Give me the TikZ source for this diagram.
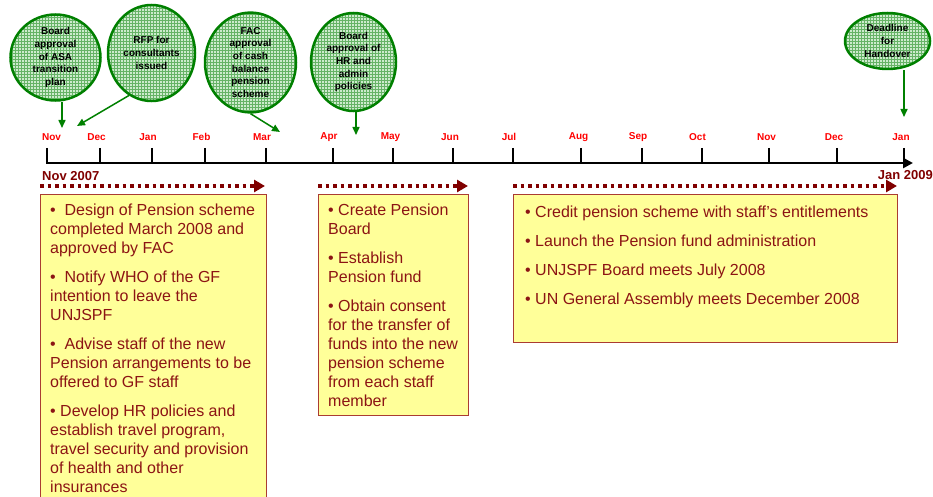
\documentclass[tikz,border=0pt]{standalone}
\usepackage{fontspec}
\setmainfont{Liberation Sans}
\usepackage{tikz}
\usetikzlibrary{shapes.geometric}
\usetikzlibrary{arrows.meta}
\usetikzlibrary{patterns}
\definecolor{darkred}{RGB}{128,0,0}
\definecolor{boxtext}{RGB}{140,20,20}
\definecolor{boxline}{RGB}{170,60,50}
\definecolor{boxfill}{RGB}{255,255,153}
\definecolor{bubgreen}{RGB}{0,128,0}
\definecolor{bubfill}{RGB}{205,235,205}
\tikzset{
  monthlbl/.style={inner sep=0pt, text=red, font=\bfseries\fontsize{10}{12}\selectfont},
  yearlbl/.style={inner sep=0pt, text=darkred, font=\bfseries\fontsize{13}{15}\selectfont},
  boxframe/.style={draw=boxline, fill=boxfill, line width=1pt},
  boxtxt/.style={anchor=north west, inner sep=0pt, align=left, text=boxtext, font=\fontsize{16}{19}\selectfont},
  bubble/.style={ellipse, draw=bubgreen, line width=2.5pt, preaction={fill=bubfill}, pattern=grid, pattern color=bubgreen!60, inner sep=0pt, align=center, font=\bfseries\fontsize{10}{12.7}\selectfont},
  flag/.style={draw=bubgreen, line width=1.5pt, -{Triangle[length=8pt,width=7pt]}},
  axisline/.style={draw=black, line width=2.5pt, -{Triangle[length=10pt,width=10pt]}},
  periodarrow/.style={draw=darkred, line width=3.5pt, dash pattern=on 3.5pt off 4pt, -{Triangle[length=11pt,width=12pt]}}
}
\newcommand{\mtick}[4]{ \draw[line width=2.5pt] ( #1 , 148 ) -- ( #1 , 163 ); \node[monthlbl] (#4) at ( #2 , 137 ) {#3};}
\newcommand{\notebox}[4]{ \draw[boxframe] ( #1 , #2 ) rectangle ( #3 , #4 );}

\begin{document}
\begin{tikzpicture}[x=1pt,y=-1pt]
        \useasboundingbox (0,0) rectangle (933,497);
        % time axis
        \coordinate (tstart) at (46,163);
        \coordinate (tend) at (913,163);
        \draw[axisline] (tstart) -- (tend);
        % months 2007-2008
        \mtick{47}{51.5}{Nov}{m1}
        \mtick{100}{96.5}{Dec}{m2}
        \mtick{152}{148}{Jan}{m3}
        \mtick{205}{201.5}{Feb}{m4}
        \mtick{266}{262}{Mar}{m5}
        \mtick{333}{329}{Apr}{m6}
        \mtick{393}{390.5}{May}{m7}
        \mtick{453}{450}{Jun}{m8}
        \mtick{513}{509}{Jul}{m9}
        \mtick{581}{578.5}{Aug}{m10}
        \mtick{642}{638}{Sep}{m11}
        \mtick{702}{697.5}{Oct}{m12}
        \mtick{769}{766.5}{Nov}{m13}
        \mtick{837}{834}{Dec}{m14}
        \mtick{904}{901}{Jan}{m15}
        % start and end
        \node[yearlbl, anchor=west] (ystart) at (42,176) {Nov 2007};
        \node[yearlbl, anchor=east] (yend) at (933,175) {Jan 2009};
        % periods
        \draw[periodarrow] (40,186) -- (265,186);
        \draw[periodarrow] (318,186) -- (468,186);
        \draw[periodarrow] (513,186) -- (897,186);
        % boxes
        \notebox{40}{194}{266}{512}
        \notebox{318}{194}{468}{415}
        \notebox{513}{194}{897}{342}
        % box texts
        \node[boxtxt] (txt1) at (50,204) {\textbullet\ \ Design of Pension scheme\\completed March 2008 and\\approved by FAC\\[10pt]
          \textbullet\ \ Notify WHO of the GF\\intention to leave the\\UNJSPF\\[10pt]
          \textbullet\ \ Advise staff of the new\\Pension arrangements to be\\offered to GF staff\\[10pt]
          \textbullet\ Develop HR policies and\\establish travel program,\\travel security and provision\\of health and other\\insurances};
        \node[boxtxt] (txt2) at (328,204) {\textbullet\ Create Pension\\Board\\[10pt]
          \textbullet\ Establish\\Pension fund\\[10pt]
          \textbullet\ Obtain consent\\for the transfer of\\funds into the new\\pension scheme\\from each staff\\member};
        \node[boxtxt] (txt3) at (525,206) {\textbullet\ Credit pension scheme with staff’s entitlements\\[10pt]
          \textbullet\ Launch the Pension fund administration\\[10pt]
          \textbullet\ UNJSPF Board meets July 2008\\[10pt]
          \textbullet\ UN General Assembly meets December 2008};
        % milestones
        \node[bubble, minimum width=90pt, minimum height=86pt] (bub1) at (55.5,57.5) {Board\\approval\\of ASA\\transition\\plan};
        \node[bubble, minimum width=87pt, minimum height=96pt] (bub2) at (151.5,53) {RFP for\\consultants\\issued};
        \node[bubble, minimum width=91pt, minimum height=97pt] (bub3) at (250.5,62.5) {FAC\\approval\\of cash\\balance\\pension\\scheme};
        \node[bubble, minimum width=85pt, minimum height=98pt] (bub4) at (353.5,62) {Board\\approval of\\HR and\\admin\\policies};
        \node[bubble, minimum width=85pt, minimum height=56pt] (bub5) at (887.5,41) {Deadline\\for\\Handover};
        % pointers
        \coordinate (tip1) at (62,128);
        \coordinate (tip2) at (77,126);
        \coordinate (tip3) at (280,132);
        \coordinate (tip4) at (356,135);
        \coordinate (tip5) at (904,117);
        \draw[flag] (bub1.south -| tip1) -- (tip1);
        \draw[flag] (bub2.242) -- (tip2);
        \draw[flag] (bub3.south) -- (tip3);
        \draw[flag] (bub4.south -| tip4) -- (tip4);
        \draw[flag] (bub5.south -| tip5) -- (tip5);
    \end{tikzpicture}
\end{document}
